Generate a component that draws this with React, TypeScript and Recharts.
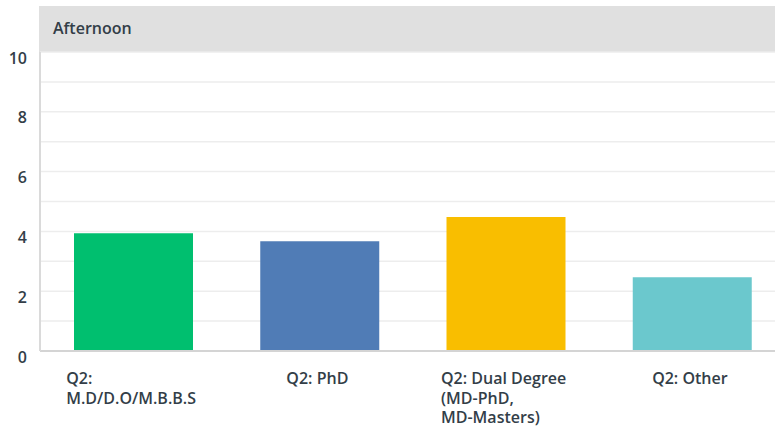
import { BarChart, Bar, XAxis, YAxis, CartesianGrid, Cell } from 'recharts';

const categories = ['Q2: M.D/D.O/M.B.B.S', 'Q2: PhD', 'Q2: Dual Degree (MD-PhD, MD-Masters)', 'Q2: Other'];
const labelLines = [
  ['Q2:', 'M.D/D.O/M.B.B.S'],
  ['Q2: PhD'],
  ['Q2: Dual Degree', '(MD-PhD,', 'MD-Masters)'],
  ['Q2: Other'],
];
const values = [3.94, 3.67, 4.48, 2.47];
const colors = ['#00bf6f', '#507cb6', '#f9be00', '#6bc8cd'];
const yTicks = [0, 2, 4, 6, 8, 10];
const gridValues = [0, 1, 2, 3, 4, 5, 6, 7, 8, 9, 10];

const TEXT = '#333e48';
const FONT = '"Open Sans", sans-serif';
const LABEL_FONT = `600 16px ${FONT}`;

const data = categories.map((name, i) => ({ name, value: values[i], lines: labelLines[i] }));

let ctx: CanvasRenderingContext2D | null = null;
function measure(s: string): number {
  if (!ctx) ctx = document.createElement('canvas').getContext('2d');
  if (!ctx) return s.length * 8;
  ctx.font = LABEL_FONT;
  return ctx.measureText(s).width;
}

// labels are a left-aligned block centred under the bar
function XTick({ x, y, index }: any) {
  const lines = labelLines[index] || [];
  const w = Math.max(...lines.map(measure));
  return (
    <text x={x - w / 2 - 2} y={y + 33} fill={TEXT} fontSize={16} fontWeight={600} fontFamily={FONT}>
      {lines.map((l, i) => (
        <tspan key={i} x={x - w / 2 - 2} dy={i === 0 ? 0 : 19.5}>
          {l}
        </tspan>
      ))}
    </text>
  );
}

function YTick({ x, y, payload }: any) {
  return (
    <text x={x} y={y + 6} dy="0.355em" textAnchor="end" fill={TEXT} fontSize={16} fontWeight={600} fontFamily={FONT}>
      {payload.value}
    </text>
  );
}

export default function App() {
  return (
    <div style={{ position: 'absolute', left: 0, top: 0, width: 775, height: 432, overflow: 'hidden', background: '#fff', fontFamily: FONT }}>
      <div
        style={{
          position: 'absolute',
          left: 39,
          top: 6,
          width: 736,
          height: 46,
          background: '#e0e0e0',
          color: TEXT,
          fontSize: 16,
          fontWeight: 600,
          lineHeight: '44px',
          paddingLeft: 14,
          boxSizing: 'border-box',
        }}
      >
        Afternoon
      </div>
      <BarChart width={785} height={432} data={data} margin={{ top: 52, right: 0, bottom: 0, left: 0 }}>
        <CartesianGrid vertical={false} horizontalValues={gridValues} stroke="#ededed" strokeWidth={1.5} />
        <XAxis
          dataKey="name"
          height={81}
          interval={0}
          tickLine={false}
          tickSize={0}
          tickMargin={0}
          axisLine={{ stroke: '#d4d4d4', strokeWidth: 2 }}
          tick={<XTick />}
        />
        <YAxis
          width={40}
          domain={[0, 10]}
          ticks={yTicks}
          tickLine={false}
          tickSize={0}
          tickMargin={13}
          axisLine={{ stroke: '#dadada', strokeWidth: 2 }}
          tick={<YTick />}
        />
        <Bar dataKey="value" barSize={119} isAnimationActive={false}>
          {data.map((d, i) => (
            <Cell key={d.name} fill={colors[i]} />
          ))}
        </Bar>
      </BarChart>
    </div>
  );
}
